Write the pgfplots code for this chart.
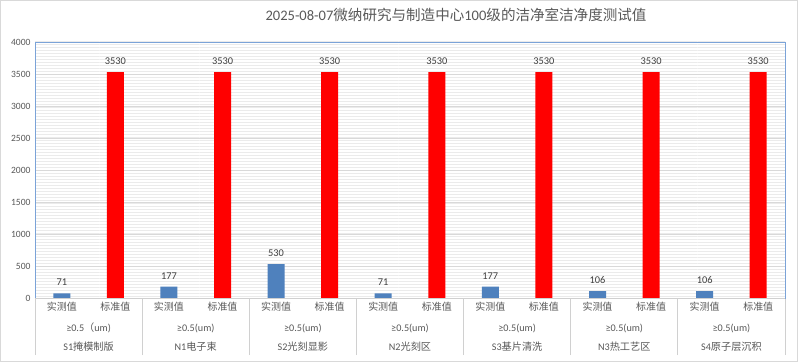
\documentclass[border=0pt]{standalone}
\usepackage{fontspec}
\setmainfont{Carlito}
\newfontfamily\cjk{Noto Sans CJK SC}
\usepackage{pgfplots}
\pgfplotsset{compat=1.18}
\usetikzlibrary{patterns}
\definecolor{barblue}{HTML}{4F81BD}
\definecolor{barred}{HTML}{FF0000}
\definecolor{txt}{HTML}{595959}
\definecolor{lbl}{HTML}{404040}
\definecolor{axblue}{HTML}{7BA3D8}
\definecolor{gridc}{HTML}{D9D9D9}
\definecolor{sepc}{HTML}{D0D0D0}
\begin{document}
\begin{tikzpicture}[x=1bp,y=1bp]
\useasboundingbox (0,0) rectangle (798,362);
\fill[white] (0,0) rectangle (798,362);
\draw[gridc] (0.5,0.5) rectangle (797.5,361.5);
\node[font=\fontsize{14.6}{18}\selectfont, text=txt, anchor=base] at (456,342)
  {2025-08-07{\cjk 微纳研究与制造中心}100{\cjk 级的洁净室洁净度测试值}};
\begin{axis}[
  at={(35bp,64bp)}, anchor=south west,
  scale only axis, width=750bp, height=256bp,
  xmin=-0.5, xmax=13.5, ymin=0, ymax=4000,
  ytick={0,500,...,4000},
  xtick={0,...,13},
  xticklabels={实测值,标准值,实测值,标准值,实测值,标准值,实测值,标准值,实测值,标准值,实测值,标准值,实测值,标准值},
  minor xtick={-0.5,1.5,3.5,5.5,7.5,9.5,11.5,13.5},
  major tick length=0pt,
  minor tick length=57bp,
  tick align=outside,
  xtick pos=bottom,
  minor x tick style={sepc, line width=0.8pt},
  ymajorgrids,
  major grid style={gridc, line width=0.8pt},
  axis line style={axblue, line width=0.9pt},
  axis background/.style={fill=white, postaction={pattern=horizontal lines, pattern color=black!8}},
  /pgf/number format/assume math mode=true,
  /pgf/number format/1000 sep={},
  yticklabel style={font=\fontsize{9.6}{11}\selectfont, text=txt, xshift=-1bp},
  xticklabel style={font=\fontsize{10}{12}\selectfont\cjk, text=txt, yshift=-1bp},
  ybar,
  bar width=17bp,
  nodes near coords,
  every node near coord/.append style={font=\fontsize{10.4}{12}\selectfont, text=lbl, yshift=4bp},
  clip=false,
]
\addplot[fill=barblue, draw=none, bar shift=0pt] coordinates {(0,71) (2,177) (4,530) (6,71) (8,177) (10,106) (12,106)};
\addplot[fill=barred, draw=none, bar shift=0pt] coordinates {(1,3530) (3,3530) (5,3530) (7,3530) (9,3530) (11,3530) (13,3530)};
\draw[sepc, line width=0.8pt] (axis cs:-0.5,0) -- (axis cs:13.5,0);
\begin{scope}[every node/.style={font=\fontsize{10.2}{12}\selectfont, text=txt, anchor=center}]
\node at ([yshift=-30bp]axis cs:0.5,0) {≥0.5{\cjk （}um)};
\node at ([yshift=-30bp]axis cs:2.5,0) {≥0.5(um)};
\node at ([yshift=-30bp]axis cs:4.5,0) {≥0.5(um)};
\node at ([yshift=-30bp]axis cs:6.5,0) {≥0.5(um)};
\node at ([yshift=-30bp]axis cs:8.5,0) {≥0.5(um)};
\node at ([yshift=-30bp]axis cs:10.5,0) {≥0.5(um)};
\node at ([yshift=-30bp]axis cs:12.5,0) {≥0.5(um)};
\node at ([yshift=-49bp]axis cs:0.5,0) {S1{\cjk 掩模制版}};
\node at ([yshift=-49bp]axis cs:2.5,0) {N1{\cjk 电子束}};
\node at ([yshift=-49bp]axis cs:4.5,0) {S2{\cjk 光刻显影}};
\node at ([yshift=-49bp]axis cs:6.5,0) {N2{\cjk 光刻区}};
\node at ([yshift=-49bp]axis cs:8.5,0) {S3{\cjk 基片清洗}};
\node at ([yshift=-49bp]axis cs:10.5,0) {N3{\cjk 热工艺区}};
\node at ([yshift=-49bp]axis cs:12.5,0) {S4{\cjk 原子层沉积}};
\end{scope}
\end{axis}
\end{tikzpicture}
\end{document}
